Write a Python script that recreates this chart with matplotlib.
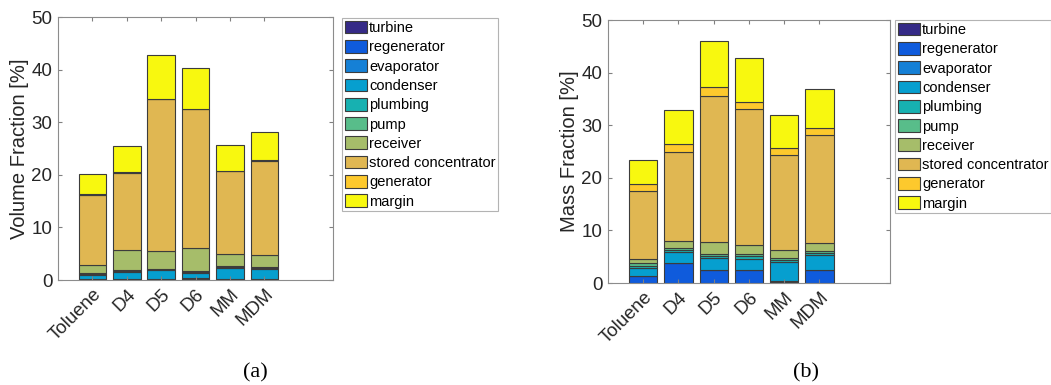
import numpy as np
import matplotlib
matplotlib.use("Agg")
import matplotlib.pyplot as plt

plt.rcParams["font.family"] = ["Liberation Sans", "DejaVu Sans"]

fluids = ["Toluene", "D4", "D5", "D6", "MM", "MDM"]
components = ["turbine", "regenerator", "evaporator", "condenser", "plumbing",
              "pump", "receiver", "stored concentrator", "generator", "margin"]
colors = ["#352a87", "#0f5bdc", "#1580d6", "#069fcf", "#17b1b1",
          "#58bd8a", "#a6bd6a", "#e0b752", "#fdc92d", "#f8f80f"]

# volume fraction [%], rows = components (bottom -> top), cols = fluids
volume = np.array([
    [0.05, 0.10, 0.05, 0.10, 0.05, 0.10],    # turbine
    [0.05, 0.10, 0.05, 0.10, 0.05, 0.10],    # regenerator
    [0.05, 0.05, 0.05, 0.10, 0.05, 0.05],    # evaporator
    [0.80, 1.35, 1.75, 1.10, 2.20, 1.80],    # condenser
    [0.15, 0.15, 0.10, 0.20, 0.15, 0.20],    # plumbing
    [0.20, 0.15, 0.15, 0.20, 0.15, 0.20],    # pump
    [1.55, 3.90, 3.45, 4.20, 2.30, 2.30],    # receiver
    [13.35, 14.60, 28.80, 26.50, 15.75, 17.95],  # stored concentrator
    [0.10, 0.10, 0.10, 0.10, 0.10, 0.10],    # generator
    [3.90, 4.90, 8.30, 7.80, 4.90, 5.30],    # margin
])

# mass fraction [%]
mass = np.array([
    [0.05, 0.05, 0.05, 0.05, 0.05, 0.05],    # turbine
    [1.30, 3.75, 2.45, 2.45, 0.20, 2.45],    # regenerator
    [0.05, 0.05, 0.05, 0.05, 0.05, 0.05],    # evaporator
    [1.50, 2.00, 2.25, 2.10, 3.70, 2.80],    # condenser
    [0.40, 0.45, 0.40, 0.45, 0.40, 0.30],    # plumbing
    [0.45, 0.40, 0.40, 0.40, 0.40, 0.40],    # pump
    [0.80, 1.35, 2.20, 1.80, 1.50, 1.55],    # receiver
    [12.95, 16.95, 27.80, 25.80, 18.10, 20.60],  # stored concentrator
    [1.40, 1.40, 1.60, 1.40, 1.30, 1.30],    # generator
    [4.50, 6.40, 8.90, 8.30, 6.30, 7.30],    # margin
])

fig = plt.figure(figsize=(10.51, 3.85), dpi=100)
ax_a = fig.add_axes([0.0552, 0.2727, 0.2617, 0.6831])
ax_b = fig.add_axes([0.5785, 0.2649, 0.2683, 0.6831])


def stacked(ax, data, ylabel):
    x = np.arange(1, len(fluids) + 1)
    bottom = np.zeros(len(fluids))
    handles = []
    for vals, c, lab in zip(data, colors, components):
        h = ax.bar(x, vals, 0.8, bottom=bottom, color=c, edgecolor="#3c3c3c",
                   linewidth=0.8, label=lab)
        handles.append(h)
        bottom = bottom + vals
    ax.set_xlim(0, 8)
    ax.set_ylim(0, 50)
    ax.set_yticks([0, 10, 20, 30, 40, 50])
    ax.set_xticks(x)
    ax.set_xticklabels(fluids, rotation=45, ha="right", rotation_mode="anchor")
    ax.tick_params(direction="in", length=3, top=True, right=True, pad=4,
                   labelsize=13.5, colors="#808080", labelcolor="#262626")
    for s in ax.spines.values():
        s.set_color("#8c8c8c")
    ax.set_ylabel(ylabel, fontsize=14.5, color="#262626", labelpad=2)
    return handles


ha = stacked(ax_a, volume, "Volume Fraction [%]")
hb = stacked(ax_b, mass, "Mass Fraction [%]")

for h, anchor in [(ha, (342 / 1051, 1 - 18 / 385)), (hb, (895 / 1051, 1 - 20 / 385))]:
    leg = fig.legend(h, components, loc="upper left", bbox_to_anchor=anchor,
                     fontsize=10.5, frameon=True, fancybox=False,
                     edgecolor="#a0a0a0", borderpad=0.2, labelspacing=0.34,
                     handlelength=1.5, handleheight=0.95, handletextpad=0.15,
                     borderaxespad=0)
    leg.get_frame().set_linewidth(0.8)

fig.text(255 / 1051, 1 - 373 / 385, "(a)", ha="center", va="center",
         fontsize=16, family=["Liberation Serif", "DejaVu Serif"])
fig.text(806 / 1051, 1 - 373 / 385, "(b)", ha="center", va="center",
         fontsize=16, family=["Liberation Serif", "DejaVu Serif"])

fig.savefig("out.png", dpi=100)
